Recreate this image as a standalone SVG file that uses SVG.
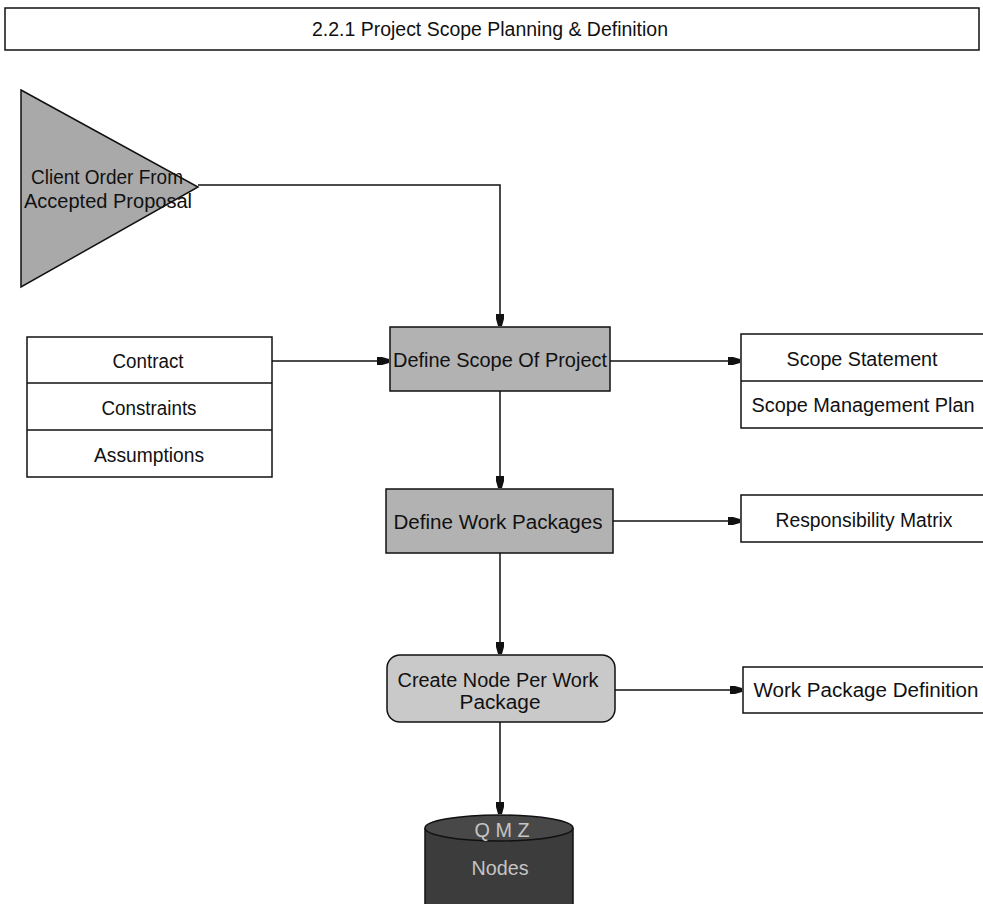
<svg xmlns="http://www.w3.org/2000/svg" width="983" height="904" viewBox="0 0 983 904">
<style>
text{font-family:"Liberation Sans",Arial,sans-serif;font-size:20px;fill:#111;}
.box{fill:#fff;stroke:#111;stroke-width:1.5;}
.proc{fill:#b2b2b2;stroke:#111;stroke-width:1.5;}
.proc2{fill:#c9c9c9;stroke:#111;stroke-width:1.5;}
.div{stroke:#111;stroke-width:1.5;fill:none;}
.conn{stroke:#111;stroke-width:1.5;fill:none;marker-end:url(#ah);}
.lt{fill:#c4c4c4;}
</style>
<defs>
<marker id="ah" markerUnits="userSpaceOnUse" markerWidth="14" markerHeight="10" refX="12" refY="5" orient="auto" viewBox="0 0 14 10">
<polygon points="0,1 5,1 12,3 12,7 5,9 0,9" fill="#111"/>
</marker>
</defs>
<rect width="983" height="904" fill="#fff"/>
<g id="title">
<rect class="box" x="5" y="8" width="974" height="42"/>
<text x="490" y="36" text-anchor="middle" textLength="356" lengthAdjust="spacingAndGlyphs">2.2.1 Project Scope Planning &amp; Definition</text>
</g>
<g id="connectors">
<polyline class="conn" points="198,185 500,185 500,326"/>
<line class="conn" x1="272" y1="361" x2="389" y2="361"/>
<line class="conn" x1="610" y1="361" x2="740" y2="361"/>
<line class="conn" x1="500" y1="391" x2="500" y2="488"/>
<line class="conn" x1="613" y1="521" x2="740" y2="521"/>
<line class="conn" x1="500" y1="553" x2="500" y2="654"/>
<line class="conn" x1="615" y1="690" x2="742" y2="690"/>
<line class="conn" x1="500" y1="722" x2="500" y2="814"/>
</g>
<g id="client-order">
<polygon points="21,90 198,187 21,287" fill="#a9a9a9" stroke="#111" stroke-width="1.5"/>
<text x="107" y="184" text-anchor="middle" textLength="152" lengthAdjust="spacingAndGlyphs">Client Order From</text>
<text x="108" y="208" text-anchor="middle" textLength="168" lengthAdjust="spacingAndGlyphs">Accepted Proposal</text>
</g>
<g id="inputs">
<rect class="box" x="27" y="337" width="245" height="140"/>
<line class="div" x1="27" y1="383" x2="272" y2="383"/>
<line class="div" x1="27" y1="430" x2="272" y2="430"/>
<text x="148" y="368" text-anchor="middle" textLength="71" lengthAdjust="spacingAndGlyphs">Contract</text>
<text x="149" y="415" text-anchor="middle" textLength="95" lengthAdjust="spacingAndGlyphs">Constraints</text>
<text x="149" y="462" text-anchor="middle" textLength="110" lengthAdjust="spacingAndGlyphs">Assumptions</text>
</g>
<g id="define-scope">
<rect class="proc" x="390" y="327" width="220" height="64"/>
<text x="500" y="367" text-anchor="middle" textLength="214" lengthAdjust="spacingAndGlyphs">Define Scope Of Project</text>
</g>
<g id="scope-outputs">
<rect class="box" x="741" y="334" width="250" height="94"/>
<line class="div" x1="741" y1="381" x2="991" y2="381"/>
<text x="862" y="366" text-anchor="middle" textLength="151" lengthAdjust="spacingAndGlyphs">Scope Statement</text>
<text x="863" y="412" text-anchor="middle" textLength="223" lengthAdjust="spacingAndGlyphs">Scope Management Plan</text>
</g>
<g id="define-work">
<rect class="proc" x="386" y="489" width="227" height="64"/>
<text x="498" y="529" text-anchor="middle" textLength="209" lengthAdjust="spacingAndGlyphs">Define Work Packages</text>
</g>
<g id="responsibility">
<rect class="box" x="741" y="495" width="250" height="47"/>
<text x="864" y="527" text-anchor="middle" textLength="177" lengthAdjust="spacingAndGlyphs">Responsibility Matrix</text>
</g>
<g id="create-node">
<rect class="proc2" x="387" y="655" width="228" height="67" rx="13" ry="13"/>
<text x="498" y="687" text-anchor="middle" textLength="201" lengthAdjust="spacingAndGlyphs">Create Node Per Work</text>
<text x="500" y="709" text-anchor="middle" textLength="81" lengthAdjust="spacingAndGlyphs">Package</text>
</g>
<g id="wp-definition">
<rect class="box" x="743" y="667" width="250" height="46"/>
<text x="866" y="697" text-anchor="middle" textLength="225" lengthAdjust="spacingAndGlyphs">Work Package Definition</text>
</g>
<g id="qmz-nodes">
<path d="M425,828 L425,910 L573,910 L573,828" fill="#3c3c3c" stroke="#111" stroke-width="1.5"/>
<ellipse cx="499" cy="828" rx="74" ry="13" fill="#484848" stroke="#111" stroke-width="1.5"/>
<text class="lt" x="502" y="837" text-anchor="middle" textLength="55" lengthAdjust="spacingAndGlyphs">Q M Z</text>
<text class="lt" x="500" y="875" text-anchor="middle" textLength="57" lengthAdjust="spacingAndGlyphs">Nodes</text>
</g>
</svg>
